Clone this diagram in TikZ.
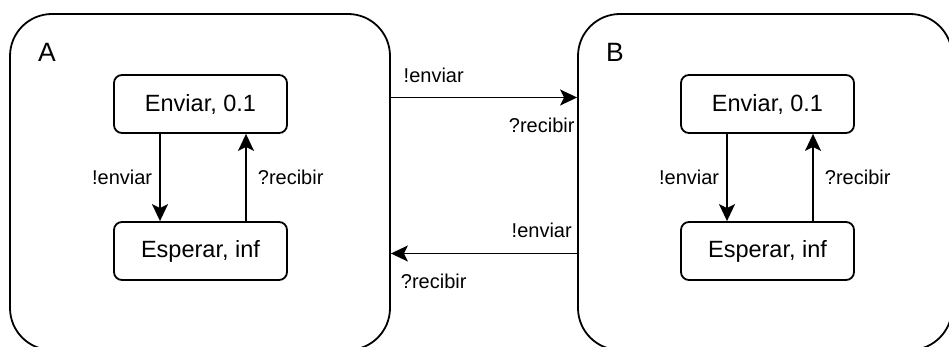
\documentclass[tikz,border=0pt]{standalone}
\usepackage{fontspec}
\setmainfont{Liberation Sans}
\usetikzlibrary{arrows.meta,
                positioning
            }

\tikzset{
    proc/.style={draw, line width=1.8pt, rounded corners=42pt,
                 minimum width=#1, minimum height=336pt, inner sep=0pt},
    state/.style={draw, line width=1.8pt, rounded corners=8pt,
                  minimum width=173pt, minimum height=58pt,
                  font=\fontsize{23.5}{28}\selectfont},
    trans/.style={line width=1.8pt, -{Stealth[length=17pt, width=16pt, inset=4pt]}},
    lbl/.style={inner sep=0pt, font=\fontsize{20}{24}\selectfont},
    procname/.style={inner sep=0pt, anchor=base west, font=\fontsize{26.5}{30}\selectfont}
}

\begin{document}
\begin{tikzpicture}[x=1pt, y=-1pt]
            \useasboundingbox (0, 0) rectangle (949, 347);

            % the two processes
            \node[proc=380pt] (procA) at (200, 182) {};
            \node[proc=374pt] (procB) at (765, 182) {};
            \node[procname] (nameA) at (38, 62) {A};
            \node[procname] (nameB) at (606, 62) {B};

            % states of A
            \node[state] (envA) at (200.5, 104) {Enviar, 0.1};
            \node[state] (espA) at (200.5, 251) {Esperar, inf};
            \draw[trans] ([xshift=-40.5pt]envA.south) -- ([xshift=-40.5pt]espA.north)
                node[lbl, midway, left=7pt] {!enviar};
            \draw[trans] ([xshift=45.5pt]espA.north) -- ([xshift=45.5pt]envA.south)
                node[lbl, midway, right=11pt] {?recibir};

            % states of B
            \node[state] (envB) at (767.5, 104) {Enviar, 0.1};
            \node[state] (espB) at (767.5, 251) {Esperar, inf};
            \draw[trans] ([xshift=-40.5pt]envB.south) -- ([xshift=-40.5pt]espB.north)
                node[lbl, midway, left=7pt] {!enviar};
            \draw[trans] ([xshift=45.5pt]espB.north) -- ([xshift=45.5pt]envB.south)
                node[lbl, midway, right=11pt] {?recibir};

            % messages between A and B
            \draw[trans] ([yshift=84.5pt]procA.east) -- ([yshift=84.5pt]procB.west)
                node[lbl, pos=0.23, above=14pt] {!enviar}
                node[lbl, pos=0.81, below=20pt] {?recibir};
            \draw[trans] ([yshift=-71.5pt]procB.west) -- ([yshift=-71.5pt]procA.east)
                node[lbl, pos=0.19, above=15pt] {!enviar}
                node[lbl, pos=0.77, below=20pt] {?recibir};
        \end{tikzpicture}
\end{document}
